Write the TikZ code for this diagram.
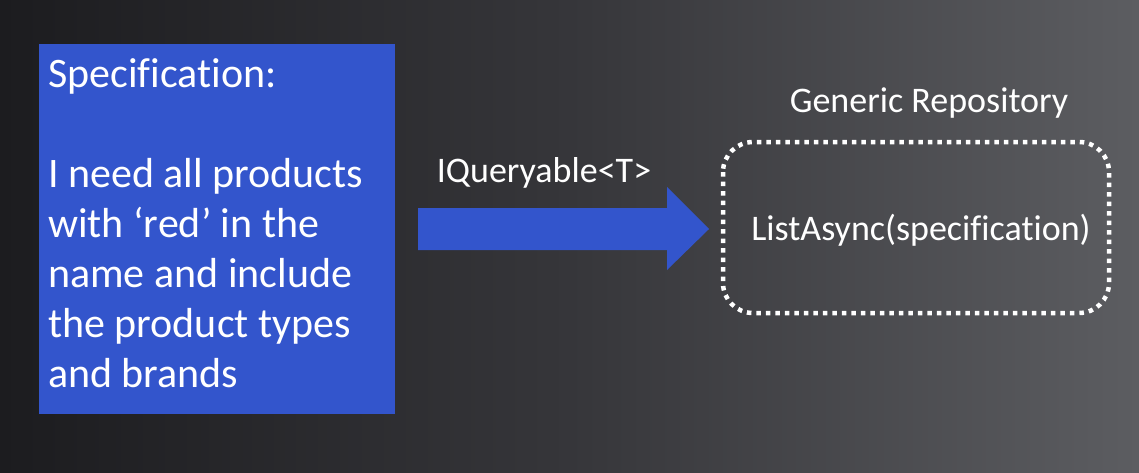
\documentclass[tikz,border=0pt]{standalone}
\usepackage{fontspec}
\setmainfont{Carlito}[Ligatures=NoCommon]
\definecolor{specblue}{RGB}{51,85,204}
\definecolor{bgdark}{RGB}{28,28,31}
\definecolor{bgmid}{RGB}{54,54,58}
\definecolor{bglight}{RGB}{92,93,97}
\tikzset{
  bigtext/.style={font=\fontsize{42}{50}\selectfont, text=white},
  midtext/.style={font=\fontsize{36}{43}\selectfont, text=white},
  specbox/.style={fill=specblue, draw=none},
  repobox/.style={draw=white, line width=4.5pt, dash pattern=on 4.5pt off 5pt, rounded corners=30pt},
  blockarrow/.style={fill=specblue, draw=none},
}
\begin{document}
\begin{tikzpicture}[x=1pt,y=-1pt]
\useasboundingbox (0,0) rectangle (1139,472);
\shade[left color=bgdark, right color=bglight, middle color=bgmid] (0,0) rectangle (1139,472);
% specification box
\path[specbox] (39,44) rectangle (395,414);
\node[bigtext, anchor=north west, align=left, inner sep=0pt] (spec) at (48,58)
  {Specification:\\[0pt]\strut\\I need all products\\with ‘red’ in the\\name and include\\the product types\\and brands};
% arrow
\path[blockarrow] (418,208) -- (667,208) -- (667,187) -- (709,229) -- (667,270) -- (667,250) -- (418,250) -- cycle;
\node[midtext, anchor=base, inner sep=0pt] (iq) at (544,182) {IQueryable<T>};
% repository
\draw[repobox] (723,142) rectangle (1109,313);
\node[midtext, anchor=base, inner sep=0pt] (gr) at (929,112) {Generic Repository};
\node[midtext, anchor=base, inner sep=0pt] (la) at (921,240) {ListAsync(specification)};
\end{tikzpicture}
\end{document}
